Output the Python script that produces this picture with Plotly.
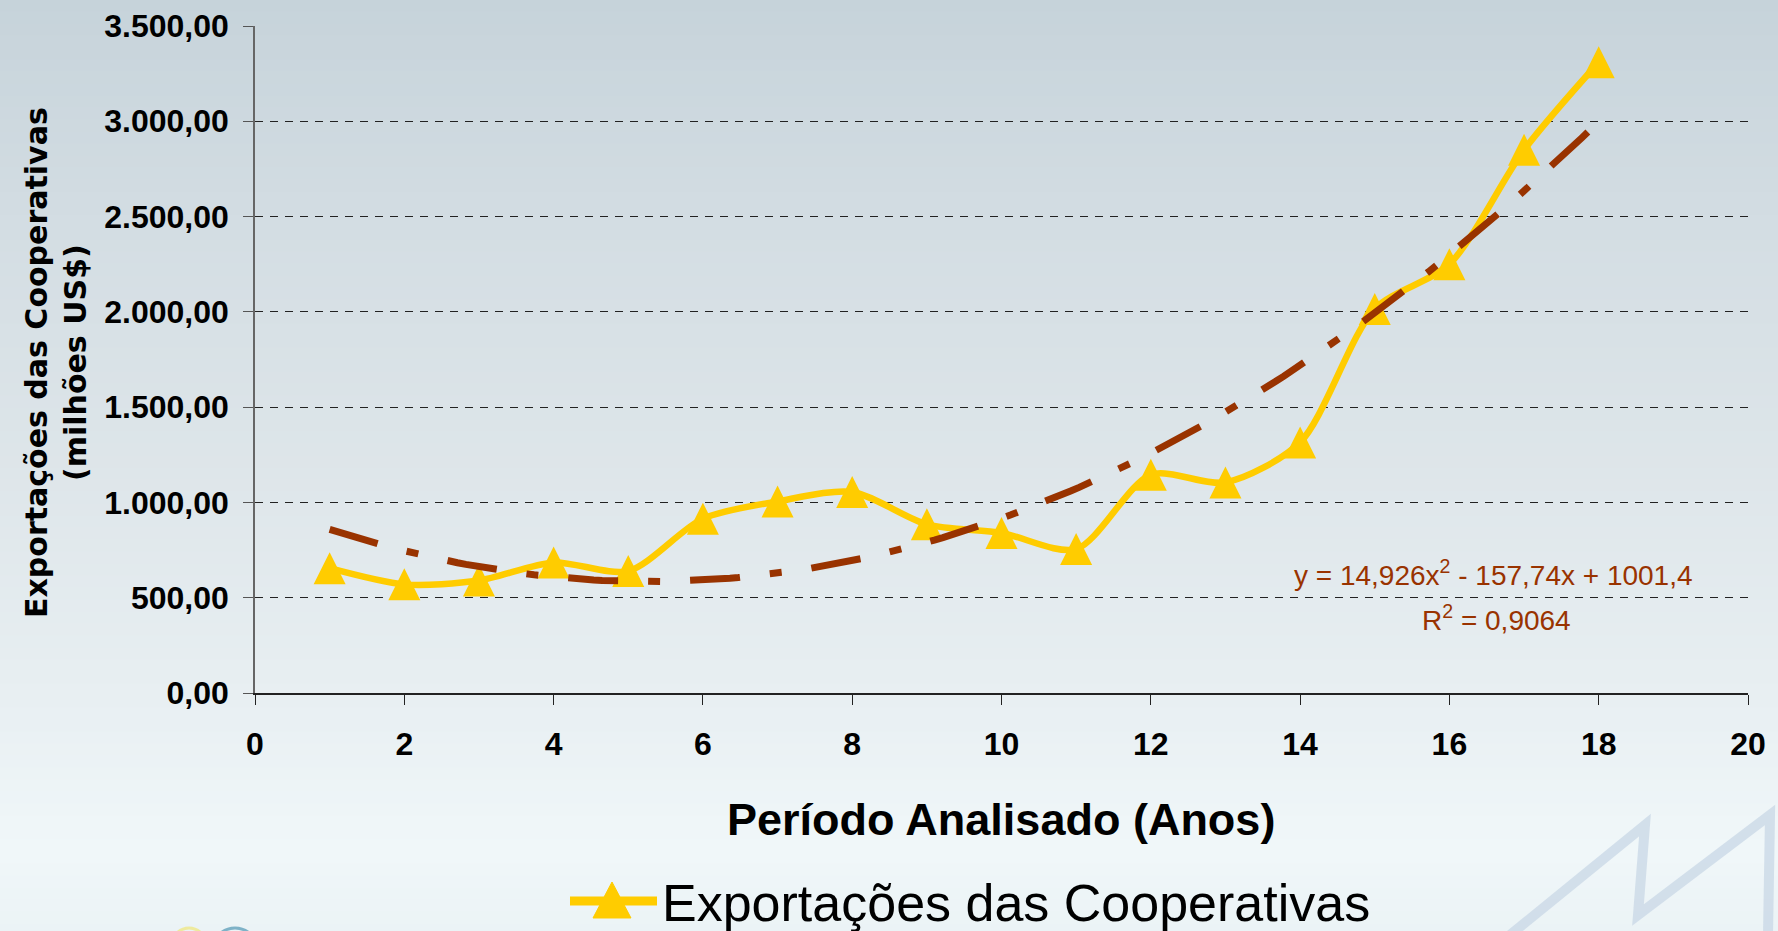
import numpy as np
import plotly.graph_objects as go

# ---------------- data ----------------
years = list(range(1, 19))
exports = [655, 570, 590, 685, 640, 915, 1005, 1055, 885, 840, 755,
           1145, 1105, 1315, 2015, 2250, 2850, 3310]
trend_coef = [14.926, -157.74, 1001.4]          # polynomial trendline (order 2)
equation_text = "y = 14,926x<sup>2</sup> - 157,74x + 1001,4"
r2_text = "R<sup>2</sup> = 0,9064"
series_name = "Exportações das Cooperativas"
x_title = "Período Analisado (Anos)"
y_title = "Exportações das Cooperativas<br>(milhões US$)"
x_ticks = list(range(0, 21, 2))
y_ticks = list(range(0, 3501, 500))

# ---------------- geometry helpers ----------------
W, H = 1778, 931
L, R, T, B = 255, 30, 26, 238
PW, PH = W - L - R, H - T - B


def pxx(x):
    return (x - L) / PW


def pxy(y):
    return (H - B - y) / PH


SANS = "Liberation Sans, Arial, Helvetica, sans-serif"
WIDE = "DejaVu Sans, Verdana, sans-serif"
GOLD = "#FFCC00"
BROWN = "#993300"

fig = go.Figure()

# series line (carries the legend entry)
fig.add_trace(go.Scatter(
    x=years, y=exports, mode="lines", name=series_name, legendgroup="exp",
    line=dict(color=GOLD, width=6.5, shape="spline", smoothing=0.8),
    hoverinfo="skip",
))
# series markers (tall triangles centred on the points)
fig.add_trace(go.Scatter(
    x=years, y=exports, mode="markers", name=series_name, legendgroup="exp",
    showlegend=False,
    marker=dict(symbol="arrow-down", angle=180, size=32, color=GOLD, standoff=16),
    hoverinfo="x+y",
))

trend_x = np.linspace(years[0], years[-1], 150)
fig.add_trace(go.Scatter(
    x=trend_x, y=np.polyval(trend_coef, trend_x), mode="lines",
    line=dict(color=BROWN, width=7, dash="50px,30px,12px,30px"),
    showlegend=False, hoverinfo="skip",
))

# ---------------- background gradient ----------------
stops_y = [0, 200, 450, 700, 850, 931]
stops_c = [(198, 211, 218), (210, 220, 226), (221, 229, 233),
           (232, 239, 242), (240, 247, 249), (235, 243, 246)]
shapes = []
band = 12
for y0 in range(0, H, band):
    y1 = min(H, y0 + band)
    ym = (y0 + y1) / 2
    col = [int(round(np.interp(ym, stops_y, [c[i] for c in stops_c]))) for i in range(3)]
    shapes.append(dict(type="rect", xref="paper", yref="paper", layer="below",
                       x0=pxx(0), x1=pxx(W), y0=pxy(y1 + 0.5), y1=pxy(y0 - 0.5),
                       fillcolor=f"rgb({col[0]},{col[1]},{col[2]})",
                       line=dict(width=0)))

# decorative "M" strokes at bottom right
m_pts = [(1510, 935), (1645, 825), (1638, 915), (1770, 815), (1768, 935)]
path = "M " + " L ".join(f"{pxx(a):.5f},{pxy(b):.5f}" for a, b in m_pts)
shapes.append(dict(type="path", xref="paper", yref="paper", layer="below",
                   path=path, line=dict(color="rgba(200,215,229,0.75)", width=10)))
# partial logo circles at bottom left
shapes.append(dict(type="circle", xref="paper", yref="paper", layer="below",
                   x0=pxx(172), x1=pxx(206), y0=pxy(962), y1=pxy(928),
                   fillcolor="rgba(0,0,0,0)", line=dict(color="rgba(240,230,120,0.7)", width=3)))
shapes.append(dict(type="circle", xref="paper", yref="paper", layer="below",
                   x0=pxx(212), x1=pxx(258), y0=pxy(975), y1=pxy(928),
                   fillcolor="rgba(0,0,0,0)", line=dict(color="rgba(80,150,180,0.7)", width=3)))

# enlarged legend key (drawn around the native legend line)
leg_text_x, leg_y = 663, 901
key_cx = 612
shapes.append(dict(type="line", xref="paper", yref="paper", layer="above",
                   x0=pxx(570), x1=pxx(657), y0=pxy(leg_y), y1=pxy(leg_y),
                   line=dict(color=GOLD, width=9)))
tri = [(key_cx, leg_y - 19), (key_cx - 19, leg_y + 17), (key_cx + 19, leg_y + 17)]
shapes.append(dict(type="path", xref="paper", yref="paper", layer="above",
                   path="M " + " L ".join(f"{pxx(a):.5f},{pxy(b):.5f}" for a, b in tri) + " Z",
                   fillcolor=GOLD, line=dict(color=GOLD, width=1)))

annotations = [
    dict(text=x_title, xref="paper", yref="paper", x=pxx(1001), y=pxy(819),
         xanchor="center", yanchor="middle", showarrow=False,
         font=dict(family=SANS, size=45, color="black", weight="bold")),
    dict(text=y_title, xref="paper", yref="paper", x=pxx(56), y=pxy(363),
         xanchor="center", yanchor="middle", showarrow=False, textangle=-90,
         font=dict(family=WIDE, size=30, color="black", weight="bold")),
    dict(text=equation_text, xref="paper", yref="paper", x=pxx(1493), y=pxy(573),
         xanchor="center", yanchor="middle", showarrow=False,
         font=dict(family=SANS, size=28, color=BROWN)),
    dict(text=r2_text, xref="paper", yref="paper", x=pxx(1496), y=pxy(618),
         xanchor="center", yanchor="middle", showarrow=False,
         font=dict(family=SANS, size=28, color=BROWN)),
]

fig.update_layout(
    width=W, height=H,
    margin=dict(l=L, r=R, t=T, b=B, autoexpand=False),
    paper_bgcolor="rgb(225,233,237)",
    plot_bgcolor="rgba(0,0,0,0)",
    separators=",.",
    shapes=shapes,
    annotations=annotations,
    showlegend=True,
    legend=dict(orientation="h", x=pxx(leg_text_x - 41), xanchor="left",
                y=pxy(leg_y), yanchor="middle",
                bgcolor="rgba(0,0,0,0)", font=dict(family=SANS, size=52, color="black")),
    xaxis=dict(range=[0, 20], tickvals=x_ticks, ticks="outside", ticklen=10,
               tickcolor="#222", tickwidth=1.3, showline=True, linecolor="#222",
               linewidth=1.5, showgrid=False, zeroline=False, ticklabelstandoff=12,
               tickfont=dict(family=SANS, size=32, color="black", weight="bold")),
    yaxis=dict(range=[0, 3500], tickvals=y_ticks, tickformat=",.2f", ticks="outside",
               ticklen=10, tickcolor="#555", tickwidth=1.3, showline=True,
               linecolor="#666", linewidth=1.5, showgrid=True, gridcolor="#222",
               gridwidth=1.2, griddash="8px,7px", zeroline=False, ticklabelstandoff=8,
               tickfont=dict(family=SANS, size=32, color="black", weight="bold")),
)

fig.write_html("out.html", config={"displayModeBar": False},
               post_script="document.body.style.margin='0px';document.body.style.padding='0px';")
